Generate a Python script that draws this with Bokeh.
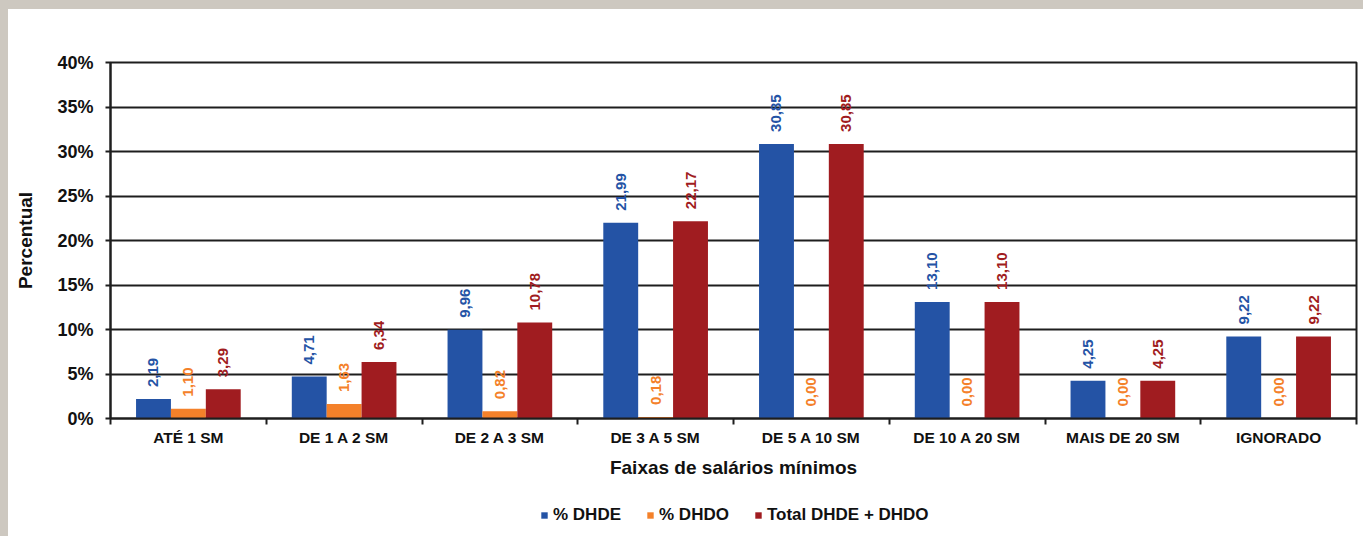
from math import pi

from bokeh.embed import file_html
from bokeh.layouts import column
from bokeh.models import ColumnDataSource, FixedTicker, Legend, LegendItem, Range1d
from bokeh.plotting import figure
from bokeh.resources import INLINE
from bokeh.transform import dodge

# Income bands (multiples of the minimum wage) and percentages per series
categories = ["ATÉ 1 SM", "DE 1 A 2 SM", "DE 2 A 3 SM", "DE 3 A 5 SM",
              "DE 5 A 10 SM", "DE 10 A 20 SM", "MAIS DE 20 SM", "IGNORADO"]
pct_dhde = [2.19, 4.71, 9.96, 21.99, 30.85, 13.10, 4.25, 9.22]
pct_dhdo = [1.10, 1.63, 0.82, 0.18, 0.00, 0.00, 0.00, 0.00]
pct_total = [3.29, 6.34, 10.78, 22.17, 30.85, 13.10, 4.25, 9.22]
series_names = ["% DHDE", "% DHDO", "Total DHDE + DHDO"]
y_ticks = [0, 5, 10, 15, 20, 25, 30, 35, 40]

FONT = "Liberation Sans"
BLUE = "#2453a5"
ORANGE = "#f4812a"
RED = "#a01c20"
GRID = "#1e1e1e"
INK = "#111111"
STONE = "#cdc8c0"


def fmt(v):
    return f"{v:.2f}".replace(".", ",")


centers = [i + 0.5 for i in range(len(categories))]
src = ColumnDataSource(dict(
    xc=centers,
    dhde=pct_dhde, dhdo=pct_dhdo, total=pct_total,
    lab_dhde=[fmt(v) for v in pct_dhde],
    lab_dhdo=[fmt(v) for v in pct_dhdo],
    lab_total=[fmt(v) for v in pct_total],
))

p = figure(width=1363, height=500,
           x_range=Range1d(0, len(categories)), y_range=Range1d(0, 40),
           output_backend="svg", toolbar_location=None,
           min_border_left=110, min_border_right=7,
           min_border_top=62, min_border_bottom=82)
p.background_fill_color = "white"
p.border_fill_alpha = 0
# stone strips along the left and top edges of the white sheet
p.styles = {
    "background": (f"linear-gradient(to right, {STONE} 8px, transparent 8px), "
                   f"linear-gradient(to bottom, {STONE} 9px, #ffffff 9px)"),
}
p.outline_line_color = GRID
p.outline_line_width = 2

bw = 0.224
offsets = [-bw, 0.0, bw]
fields = ["dhde", "dhdo", "total"]
colors = [BLUE, ORANGE, RED]

for fld, off, col in zip(fields, offsets, colors):
    p.vbar(x=dodge("xc", off, range=p.x_range), top=fld, width=bw,
           bottom=0, source=src, fill_color=col, line_color=None)
    p.text(x=dodge("xc", off, range=p.x_range), y=fld, text="lab_" + fld,
           source=src, angle=pi / 2, text_align="left", text_baseline="middle",
           y_offset=-12, text_color=col, text_font_size="15px",
           text_font_style="bold", text_font={"value": FONT})

# y axis
yax = p.yaxis[0]
yax.ticker = FixedTicker(ticks=y_ticks)
yax.major_label_overrides = {t: f"{t}%" for t in y_ticks}
yax.major_tick_out = 5
yax.major_tick_in = 0
yax.minor_tick_out = 0
yax.minor_tick_in = 0
yax.axis_line_width = 2
yax.axis_line_color = GRID
yax.major_tick_line_width = 2
yax.major_tick_line_color = GRID
yax.major_label_standoff = 12
yax.major_label_text_font = FONT
yax.major_label_text_font_style = "bold"
yax.major_label_text_font_size = "18px"
yax.major_label_text_color = INK
yax.axis_label = "Percentual"
yax.axis_label_text_font = FONT
yax.axis_label_text_font_style = "bold"
yax.axis_label_text_font_size = "19px"
yax.axis_label_text_color = INK
yax.axis_label_standoff = 18

# x axis: labels at band centres, ticks at band boundaries
xax = p.xaxis[0]
xax.ticker = FixedTicker(ticks=centers, minor_ticks=list(range(len(categories) + 1)))
xax.major_label_overrides = {c: name for c, name in zip(centers, categories)}
xax.major_tick_out = 0
xax.major_tick_in = 0
xax.minor_tick_out = 6
xax.minor_tick_in = 0
xax.minor_tick_line_width = 2
xax.minor_tick_line_color = GRID
xax.axis_line_width = 2
xax.axis_line_color = GRID
xax.major_label_standoff = 4
xax.major_label_text_font = FONT
xax.major_label_text_font_style = "bold"
xax.major_label_text_font_size = "15.5px"
xax.major_label_text_color = INK
xax.axis_label = "Faixas de salários mínimos"
xax.axis_label_text_font = FONT
xax.axis_label_text_font_style = "bold"
xax.axis_label_text_font_size = "19px"
xax.axis_label_text_color = INK
xax.axis_label_standoff = 8

p.xgrid.visible = False
p.ygrid.ticker = FixedTicker(ticks=y_ticks)
p.ygrid.grid_line_color = GRID
p.ygrid.grid_line_width = 2

# legend strip under the chart (its frame lines up with the chart frame)
lg = figure(width=1363, height=36, x_range=Range1d(0, 1), y_range=Range1d(0, 1),
            output_backend="svg", toolbar_location=None,
            min_border=0, min_border_left=0, min_border_right=0,
            min_border_top=0, min_border_bottom=0)
lg.axis.visible = False
lg.grid.visible = False
lg.outline_line_color = None
lg.background_fill_alpha = 0
lg.border_fill_alpha = 0
lg.styles = {"background": f"linear-gradient(to right, {STONE} 8px, #ffffff 8px)"}

keys = []
for fld, off, col in zip(fields, offsets, colors):
    k = lg.vbar(x=dodge("xc", off), top=fld, width=bw, bottom=0, source=src,
                fill_color=col, line_color=None, visible=False)
    keys.append(k)

legend = Legend(
    items=[LegendItem(label=n, renderers=[r]) for n, r in zip(series_names, keys)],
    orientation="horizontal", location=(430, 11),
    border_line_alpha=0, background_fill_alpha=0,
    inactive_fill_alpha=0,
    label_text_font=FONT, label_text_font_style="bold",
    label_text_font_size="17px", label_text_color=INK,
    glyph_width=8, glyph_height=8, label_standoff=5, spacing=25,
    padding=0, margin=0,
)
lg.add_layout(legend)

root = column(p, lg, spacing=0)
open("out.html", "w").write(file_html(root, INLINE))
